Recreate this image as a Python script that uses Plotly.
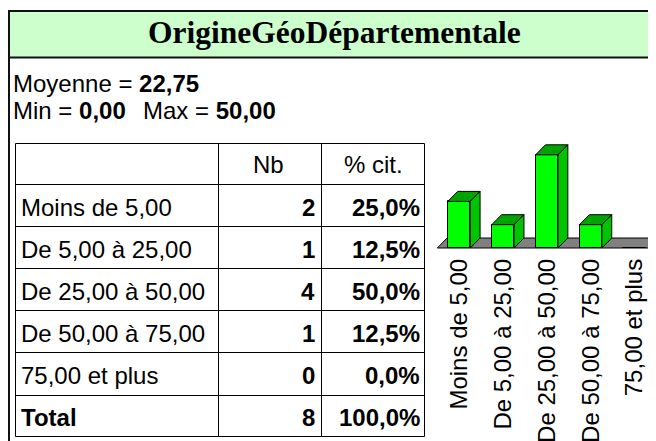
import plotly.graph_objects as go

# ---------------- data ----------------
title_text = "OrigineGéoDépartementale"
categories = ["Moins de 5,00", "De 5,00 à 25,00", "De 25,00 à 50,00",
              "De 50,00 à 75,00", "75,00 et plus"]
counts = [2, 1, 4, 1, 0]
percents = [25.0, 12.5, 50.0, 12.5, 0.0]
total_label = "Total"
total_count = 8
total_percent = 100.0
col_headers = ["", "Nb", "% cit."]
mean_value = 22.75
min_value = 0.00
max_value = 50.00

# ---------------- helpers ----------------
W, H = 656, 441
OFF = 8  # page body margin: screen pixel = figure pixel + OFF
FONT = "Liberation Sans, Arial, sans-serif"
FS = 24


def fr(v, d=2):
    return f"{v:.{d}f}".replace(".", ",")


def fx(p):  # screen x -> paper fraction
    return (p - OFF) / W


def fy(p):  # screen y -> paper fraction
    return (H - (p - OFF)) / H


fig = go.Figure()

# ---------------- bar chart (3D look) ----------------
px_per_cat = 42.4
x_center0 = 458.0
x_left_px, x_right_px = 428.0, 656.0
y_base_px, y_bottom_px, y_top_px = 248.0, 253.0, 120.0
px_per_unit = 23.3
bar_w = 0.51
dx = 9.5 / px_per_cat
dy = 10.0 / px_per_unit

xr = [(x_left_px - x_center0) / px_per_cat, (x_right_px - x_center0) / px_per_cat]
yr = [-(y_bottom_px - y_base_px) / px_per_unit, (y_base_px - y_top_px) / px_per_unit]

xs = list(range(len(categories)))
fig.add_trace(go.Bar(
    x=xs, y=counts, width=bar_w, xaxis="x2", yaxis="y2",
    marker=dict(color="#00FF00", line=dict(color="black", width=1)),
    hoverinfo="skip", showlegend=False))

for i, v in zip(xs, counts):
    if v <= 0:
        continue
    x0, x1 = i - bar_w / 2, i + bar_w / 2
    fig.add_trace(go.Scatter(
        x=[x0, x1, x1 + dx, x0 + dx, x0], y=[v, v, v + dy, v + dy, v],
        mode="lines", fill="toself", fillcolor="#00A400",
        line=dict(color="black", width=1), xaxis="x2", yaxis="y2",
        hoverinfo="skip", showlegend=False))
    fig.add_trace(go.Scatter(
        x=[x1, x1 + dx, x1 + dx, x1, x1], y=[0, dy, v + dy, v, 0],
        mode="lines", fill="toself", fillcolor="#00C400",
        line=dict(color="black", width=1), xaxis="x2", yaxis="y2",
        hoverinfo="skip", showlegend=False))

# floor
fl = (437.0 - x_center0) / px_per_cat
frt = (650.0 - x_center0) / px_per_cat
shapes = [dict(type="path", xref="x2", yref="y2", layer="below",
               path=f"M {fl},0 L {fl + dx},{dy} L {frt + dx},{dy} L {frt},0 Z",
               fillcolor="#808080", line=dict(color="black", width=1))]

# ---------------- frame / title ----------------
shapes.append(dict(type="rect", xref="x", yref="y", x0=9, x1=700, y0=11, y1=57.5,
                   fillcolor="#CCFFCC", line=dict(color="#111111", width=2), layer="below"))
shapes.append(dict(type="line", xref="x", yref="y", x0=9, x1=9, y0=11, y1=460,
                   line=dict(color="#111111", width=2)))

annotations = [dict(xref="x", yref="y", x=334.5, y=32, xanchor="center", yanchor="middle",
                    text=f"<b>{title_text}</b>", showarrow=False,
                    font=dict(family="Liberation Serif, Times New Roman, serif", size=31.5, color="black"))]

annotations.append(dict(xref="x", yref="y", x=11, y=83, xanchor="left", yanchor="middle",
                        text=f"Moyenne = <b>{fr(mean_value)}</b>", showarrow=False,
                        font=dict(family=FONT, size=FS, color="black")))
annotations.append(dict(xref="x", yref="y", x=11, y=110.5, xanchor="left", yanchor="middle",
                        text=f"Min = <b>{fr(min_value)}</b>", showarrow=False,
                        font=dict(family=FONT, size=FS, color="black")))
annotations.append(dict(xref="x", yref="y", x=141, y=110.5, xanchor="left", yanchor="middle",
                        text=f"Max = <b>{fr(max_value)}</b>", showarrow=False,
                        font=dict(family=FONT, size=FS, color="black")))

# ---------------- table ----------------
col_x = [15.5, 218.5, 321.5, 424.5]
row_y = [143.5, 184.5, 226.5, 268.5, 310.5, 352.5, 395.5, 436.5]
for cx in col_x:
    shapes.append(dict(type="line", xref="x", yref="y", x0=cx, x1=cx, y0=row_y[0], y1=row_y[-1],
                       line=dict(color="black", width=1)))
for ry in row_y:
    shapes.append(dict(type="line", xref="x", yref="y", x0=col_x[0], x1=col_x[-1], y0=ry, y1=ry,
                       line=dict(color="black", width=1)))

hdr_cy = (row_y[0] + row_y[1]) / 2
annotations.append(dict(xref="x", yref="y", x=268.5, y=hdr_cy, xanchor="center", yanchor="middle",
                        text=col_headers[1], showarrow=False, font=dict(family=FONT, size=FS, color="black")))
annotations.append(dict(xref="x", yref="y", x=373, y=hdr_cy, xanchor="center", yanchor="middle",
                        text=col_headers[2], showarrow=False, font=dict(family=FONT, size=FS, color="black")))

rows = [(c, n, p, False) for c, n, p in zip(categories, counts, percents)]
rows.append((total_label, total_count, total_percent, True))
for k, (lab, n, p, is_total) in enumerate(rows):
    cy = (row_y[k + 1] + row_y[k + 2]) / 2 + 1.5
    lab_txt = f"<b>{lab}</b>" if is_total else lab
    annotations.append(dict(xref="x", yref="y", x=19, y=cy, xanchor="left", yanchor="middle",
                            text=lab_txt, showarrow=False, font=dict(family=FONT, size=FS, color="black")))
    annotations.append(dict(xref="x", yref="y", x=317, y=cy, xanchor="right", yanchor="middle",
                            text=f"<b>{n}</b>", showarrow=False, font=dict(family=FONT, size=FS, color="black")))
    annotations.append(dict(xref="x", yref="y", x=422, y=cy, xanchor="right", yanchor="middle",
                            text=f"<b>{fr(p, 1)}%</b>", showarrow=False, font=dict(family=FONT, size=FS, color="black")))

fig.update_layout(
    width=W, height=H, margin=dict(l=0, r=0, t=0, b=0), autosize=False,
    paper_bgcolor="white", plot_bgcolor="rgba(0,0,0,0)", showlegend=False,
    xaxis=dict(range=[OFF, OFF + W], domain=[0, 1], visible=False, fixedrange=True),
    yaxis=dict(range=[OFF + H, OFF], domain=[0, 1], visible=False, fixedrange=True),
    xaxis2=dict(range=xr, domain=[fx(x_left_px), 1.0], anchor="y2",
                tickmode="array", tickvals=xs, ticktext=categories, tickangle=-90,
                ticks="", showgrid=False, zeroline=False, showline=False, automargin=False,
                tickfont=dict(family=FONT, size=FS, color="black"), fixedrange=True),
    yaxis2=dict(range=yr, domain=[fy(y_bottom_px), fy(y_top_px)], anchor="x2",
                visible=False, showgrid=False, zeroline=False, fixedrange=True),
    shapes=shapes, annotations=annotations, bargap=0,
)

fig.write_html("out.html")
